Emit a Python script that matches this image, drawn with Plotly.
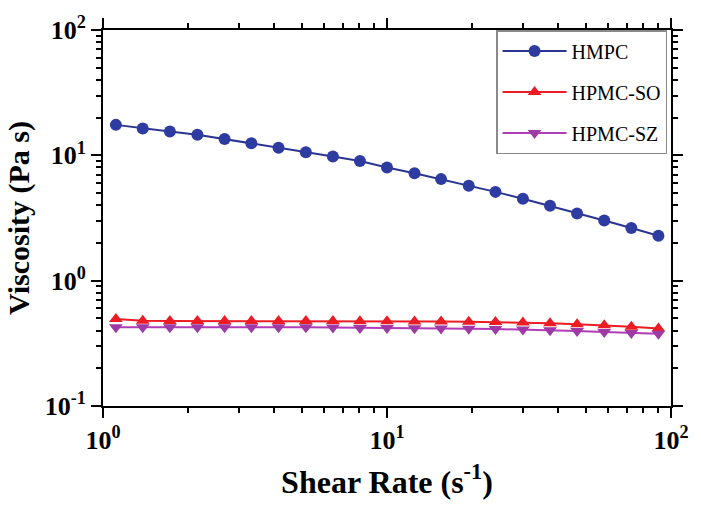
import plotly.graph_objects as go

# Data
shear_rate = [1.11, 1.38, 1.72, 2.15, 2.68, 3.33, 4.15, 5.18, 6.45, 8.03,
              10.0, 12.5, 15.5, 19.4, 24.1, 30.1, 37.5, 46.7, 58.2, 72.5, 90.3]
hmpc = [17.5, 16.4, 15.5, 14.6, 13.5, 12.5, 11.5, 10.6, 9.8, 9.0,
        8.0, 7.2, 6.46, 5.73, 5.11, 4.51, 3.96, 3.44, 3.02, 2.63, 2.28]
hpmc_so = [0.495, 0.478, 0.477, 0.477, 0.477, 0.477, 0.477, 0.477, 0.476, 0.475,
           0.474, 0.473, 0.472, 0.470, 0.467, 0.463, 0.458, 0.450, 0.440, 0.428, 0.415]
hpmc_sz = [0.425, 0.424, 0.424, 0.424, 0.424, 0.424, 0.424, 0.424, 0.423, 0.420,
           0.419, 0.418, 0.416, 0.414, 0.411, 0.408, 0.403, 0.397, 0.390, 0.383, 0.377]

series_names = ["HMPC", "HPMC-SO", "HPMC-SZ"]
x_tickvals = [1, 10, 100]
x_ticktext = ["10<sup>0</sup>", "10<sup>1</sup>", "10<sup>2</sup>"]
y_tickvals = [0.1, 1, 10, 100]
y_ticktext = ["10<sup>-1</sup>", "10<sup>0</sup>", "10<sup>1</sup>", "10<sup>2</sup>"]

FONT = "Liberation Serif"

fig = go.Figure()
fig.add_trace(go.Scatter(
    x=shear_rate, y=hmpc, name=series_names[0], legendgroup="a",
    mode="lines+markers",
    line=dict(color="#2A3591", width=2),
    marker=dict(symbol="circle", size=12, color="#2E3BA0"),
))
fig.add_trace(go.Scatter(
    x=shear_rate, y=hpmc_so, name=series_names[1], legendgroup="b",
    mode="lines+markers",
    line=dict(color="#EC1C24", width=2),
    marker=dict(symbol="triangle-up", size=12, color="#EC1C24"),
))
fig.add_trace(go.Scatter(
    x=shear_rate, y=hpmc_sz, name=series_names[2], legendgroup="c",
    mode="lines+markers",
    line=dict(color="#B23CB8", width=2),
    marker=dict(symbol="triangle-down", size=12, color="#9E3AA6"),
))

minor_x = [m * 10 ** k for k in range(0, 2) for m in range(2, 10)]
minor_y = [m * 10 ** k for k in range(-1, 2) for m in range(2, 10)]

axis_common = dict(
    type="log",
    showgrid=False,
    zeroline=False,
    showline=True,
    linecolor="black",
    linewidth=2,
    mirror="allticks",
    ticks="outside",
    ticklen=10,
    tickwidth=2,
    tickcolor="black",
    tickfont=dict(family=FONT, size=26, color="black", weight="bold"),
)

fig.update_xaxes(
    **axis_common,
    range=[0, 2],
    tickmode="array", tickvals=x_tickvals, ticktext=x_ticktext,
    minor=dict(tickmode="array", tickvals=minor_x, ticks="outside",
               ticklen=5, tickwidth=1.5, tickcolor="black", showgrid=False),
    title=dict(text="Shear Rate (s<sup>-1</sup>)", standoff=16,
               font=dict(family=FONT, size=32, color="black", weight="bold")),
)
fig.update_yaxes(
    **axis_common,
    range=[-1, 2],
    tickmode="array", tickvals=y_tickvals, ticktext=y_ticktext,
    minor=dict(tickmode="array", tickvals=minor_y, ticks="outside",
               ticklen=5, tickwidth=1.5, tickcolor="black", showgrid=False),
    title=dict(text="Viscosity (Pa s)", standoff=6,
               font=dict(family=FONT, size=30, color="black", weight="bold")),
)

fig.update_layout(
    width=701, height=506,
    margin=dict(l=103, r=23, t=25, b=96),
    paper_bgcolor="white",
    plot_bgcolor="white",
    showlegend=True,
    legend=dict(
        x=0.692, y=1.0, xanchor="left", yanchor="top",
        bordercolor="#8A8A8A", borderwidth=1.5,
        bgcolor="white",
        font=dict(family=FONT, size=20, color="black"),
        tracegroupgap=12,
        traceorder="grouped",
        itemwidth=64,
    ),
)

fig.write_html("out.html")
